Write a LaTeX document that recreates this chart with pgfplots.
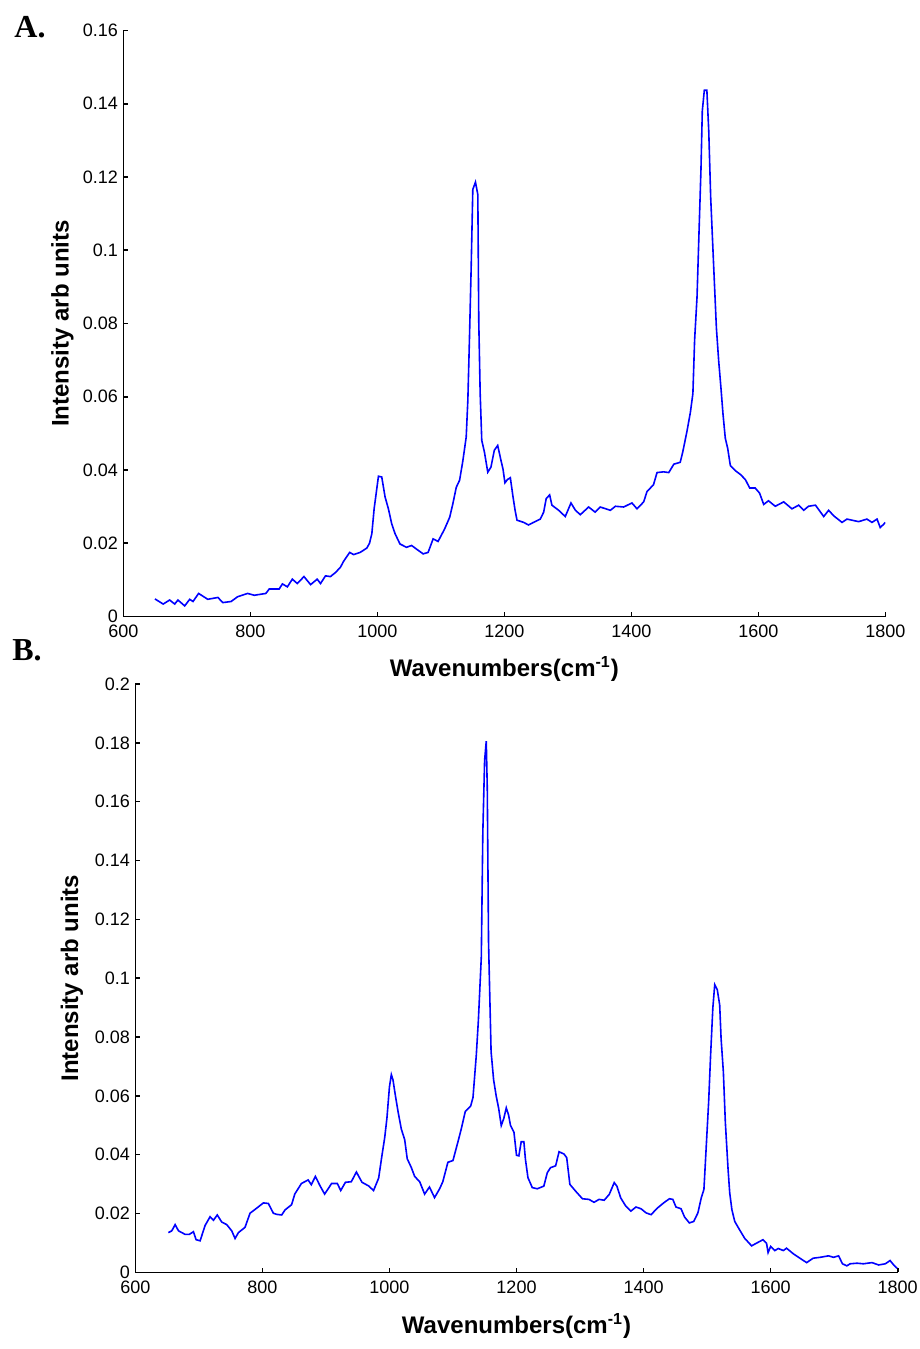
\documentclass[border=0pt]{standalone}
\usepackage{fontspec}
\setmainfont{Liberation Sans}
\newfontfamily\serifbold{Liberation Serif}
\usepackage{pgfplots}
\usepackage{pgfplotstable}
\pgfplotsset{compat=1.18}

\pgfplotstableread{
x y
649.8 0.0048
662.8 0.0034
673 0.0045
681 0.0034
686 0.0045
696.7 0.0029
704.6 0.0047
709.8 0.0041
718.6 0.0063
733 0.0047
749 0.0052
756.7 0.0038
769.8 0.0041
780 0.0054
795.8 0.0063
806.3 0.0058
824.5 0.0063
829.7 0.0075
845.4 0.0075
850.6 0.0089
858.4 0.0081
866.2 0.0102
874 0.0090
884.5 0.0109
895 0.0087
905.3 0.0102
910.6 0.0090
918.4 0.0111
926.2 0.0109
934 0.0120
941.8 0.0134
947 0.0151
956.5 0.0175
962.7 0.0169
973 0.0175
983.6 0.0187
987.7 0.0200
991.4 0.0226
995 0.0294
999.2 0.0349
1001.8 0.0383
1007 0.0381
1012.3 0.0326
1017.5 0.0294
1022.7 0.0253
1028 0.0226
1035.7 0.0198
1046 0.0189
1054 0.0194
1061.8 0.0184
1072.2 0.0171
1080 0.0175
1087.9 0.0212
1095.7 0.0205
1106 0.0239
1114 0.0271
1119 0.0308
1124.4 0.0353
1129.6 0.0372
1134.8 0.0426
1140 0.0490
1142.6 0.0591
1145.2 0.0764
1147.8 0.0951
1150.4 0.1166
1154.6 0.1186
1158.3 0.1152
1159.8 0.0805
1162 0.0609
1164.5 0.0481
1168.7 0.0449
1174 0.0394
1179 0.0408
1184.3 0.0454
1189.6 0.0467
1194.8 0.0426
1198 0.0402
1201 0.0365
1205 0.0374
1209.5 0.0379
1213.7 0.0327
1217 0.0290
1220 0.0263
1230.5 0.0257
1238 0.0250
1246 0.0257
1256.7 0.0266
1262 0.0285
1266 0.0322
1271.4 0.0332
1275 0.0304
1285.6 0.0290
1296 0.0273
1305 0.0310
1312 0.0290
1319.7 0.0278
1332.8 0.0299
1343 0.0285
1351 0.0299
1367 0.0290
1375 0.0301
1388 0.0299
1401 0.0310
1409 0.0294
1419.5 0.0313
1424.7 0.0341
1435 0.0360
1440.5 0.0393
1451 0.0395
1459 0.0393
1467 0.0416
1477 0.0421
1481 0.0449
1487.7 0.0506
1493 0.0557
1497 0.0609
1499.7 0.0755
1503.5 0.0872
1507 0.1070
1509.7 0.1220
1511.8 0.1380
1515 0.1437
1519 0.1437
1522 0.1324
1525 0.1145
1529.7 0.0957
1534 0.0788
1537.6 0.0698
1541 0.0628
1544.4 0.0553
1548 0.0487
1551.8 0.0459
1556 0.0412
1564 0.0398
1571.7 0.0388
1579.6 0.0374
1586.4 0.0351
1595 0.0351
1602 0.0337
1608.5 0.0306
1616 0.0316
1626.7 0.0301
1640 0.0313
1653 0.0294
1663.6 0.0304
1671.5 0.0290
1679 0.0301
1690 0.0304
1703 0.0273
1710.8 0.0290
1718.7 0.0275
1731.8 0.0257
1739.7 0.0266
1758 0.0259
1771 0.0266
1779 0.0257
1787 0.0266
1792 0.0243
1797.5 0.0252
1800 0.0257
}\specA

\pgfplotstableread{
x y
652 0.0135
657.4 0.0141
662.7 0.0162
668 0.0141
678.4 0.0129
685 0.0129
691.5 0.0138
695.7 0.0111
702 0.0107
709.8 0.0159
717.7 0.0189
723 0.0177
729 0.0195
736 0.0171
744 0.0162
751.8 0.0141
757 0.0115
762.3 0.0135
772.7 0.0153
780.6 0.0201
791 0.0218
801.6 0.0236
809.4 0.0234
817.3 0.0201
822.5 0.0197
830.4 0.0195
835.6 0.0212
846 0.0230
851 0.0266
861.5 0.0302
872 0.0314
877 0.0298
883.5 0.0326
890.3 0.0296
898 0.0266
909 0.0302
918 0.0302
923.3 0.0278
930.7 0.0306
940 0.0308
948 0.0341
956.8 0.0306
967 0.0294
975 0.0278
983 0.0320
988 0.0394
992.5 0.0457
996 0.0523
1000 0.0630
1003 0.0672
1005.6 0.0654
1009 0.0606
1013.5 0.0547
1018.7 0.0487
1024 0.0451
1028 0.0386
1034.5 0.0356
1039.7 0.0326
1047.6 0.0308
1055.4 0.0266
1063 0.0290
1071 0.0254
1079 0.0284
1084 0.0308
1092 0.0374
1100 0.0380
1108 0.0445
1113 0.0487
1119.4 0.0547
1127.8 0.0565
1131.5 0.0594
1136.7 0.0738
1140 0.0857
1144.6 0.1072
1147 0.1496
1149.8 0.1740
1152.4 0.1806
1154 0.1645
1156 0.1120
1160 0.0750
1164 0.0654
1168 0.0600
1171.8 0.0559
1176 0.0499
1180 0.0523
1183.9 0.0559
1187.5 0.0535
1190.5 0.0500
1196 0.0476
1200 0.0398
1203.7 0.0396
1207.4 0.0444
1211.6 0.0444
1214 0.0385
1218 0.0322
1224.8 0.0288
1232.7 0.0284
1243 0.0293
1248.5 0.0339
1253.7 0.0356
1261.6 0.0362
1267 0.0410
1274.8 0.0402
1279 0.0390
1284 0.0299
1293 0.0276
1303.8 0.0250
1314 0.0248
1322 0.0238
1330 0.0248
1338 0.0245
1346 0.0265
1353.8 0.0305
1358 0.0293
1364 0.0253
1372 0.0225
1380 0.0208
1388 0.0222
1396 0.0216
1404 0.0202
1411.8 0.0196
1422 0.0219
1432.8 0.0238
1440.7 0.0250
1446 0.0248
1451 0.0222
1459 0.0216
1464.5 0.0188
1472 0.0168
1479 0.0173
1485.5 0.0202
1490.8 0.0253
1495 0.0282
1498.7 0.0430
1502.4 0.0578
1505.5 0.0738
1509 0.0898
1512 0.0978
1516 0.0961
1519.8 0.0909
1522 0.0795
1525.6 0.0681
1528.7 0.0510
1533 0.0350
1535.6 0.0270
1539 0.0213
1543.5 0.0173
1551 0.0145
1559 0.0116
1570 0.0090
1577.7 0.0099
1588 0.0111
1593.5 0.0099
1596 0.0067
1600 0.0088
1606.7 0.0074
1612 0.0081
1620 0.0074
1625 0.0082
1635.7 0.0063
1646 0.0048
1656.7 0.0033
1667 0.0048
1678 0.0051
1691 0.0056
1699 0.0051
1707 0.0056
1713 0.0029
1720 0.0022
1725 0.0029
1736 0.0031
1746 0.0029
1759.5 0.0033
1770 0.0025
1780.5 0.0029
1788 0.0040
1793.7 0.0025
1799 0.0014
}\specB

\pgfplotsset{spec/.style={
  scale only axis, width=381pt,
  xmin=600, xmax=1800, ymin=0,
  axis x line=bottom, axis y line=left,
  axis line style={-, line width=0.8pt, black},
  tick align=inside, major tick length=2.2pt,
  tick style={black, line width=0.8pt},
  xtick={600,800,1000,1200,1400,1600,1800},
  scaled y ticks=false,
  /pgf/number format/assume math mode=true,
  /pgf/number format/1000 sep={},
  yticklabel style={/pgf/number format/fixed, /pgf/number format/precision=2,
     font=\fontsize{9}{10}\selectfont, inner sep=0pt, xshift=-2.5pt},
  xticklabel style={font=\fontsize{9}{10}\selectfont, inner sep=0pt, yshift=-4pt},
  xlabel={Wavenumbers(cm\textsuperscript{-1})},
  ylabel={Intensity arb units},
  label style={font=\fontsize{12}{14}\selectfont\bfseries},
}}

\begin{document}
\begin{tikzpicture}
\useasboundingbox (0,0) rectangle (460pt,-674.5pt);

\node[anchor=base west, inner sep=0pt, font=\serifbold\bfseries\fontsize{16}{18}\selectfont] at (7pt,-18.5pt) {A.};
\node[anchor=base west, inner sep=0pt, font=\serifbold\bfseries\fontsize{16}{18}\selectfont] at (6pt,-330pt) {B.};

\begin{axis}[spec, at={(61.65pt,-308.25pt)}, anchor=south west,
  height=293pt, ymax=0.16,
  ytick={0,0.02,0.04,0.06,0.08,0.1,0.12,0.14,0.16},
  xlabel style={at={([yshift=-29.75pt]axis description cs:0.5,0)}, anchor=base},
  ylabel style={at={([xshift=-30.5pt]axis description cs:0,0.5)}, anchor=center},
]
\addplot[blue, line width=0.8pt] table[x=x, y=y] {\specA};
\end{axis}

\begin{axis}[spec, at={(67.65pt,-636.15pt)}, anchor=south west,
  width=381.2pt, height=294.15pt, ymax=0.2,
  ytick={0,0.02,0.04,0.06,0.08,0.1,0.12,0.14,0.16,0.18,0.2},
  xlabel style={at={([yshift=-30.5pt]axis description cs:0.5,0)}, anchor=base},
  ylabel style={at={([xshift=-31.7pt]axis description cs:0,0.5)}, anchor=center},
]
\addplot[blue, line width=0.8pt] table[x=x, y=y] {\specB};
\end{axis}
\end{tikzpicture}
\end{document}
